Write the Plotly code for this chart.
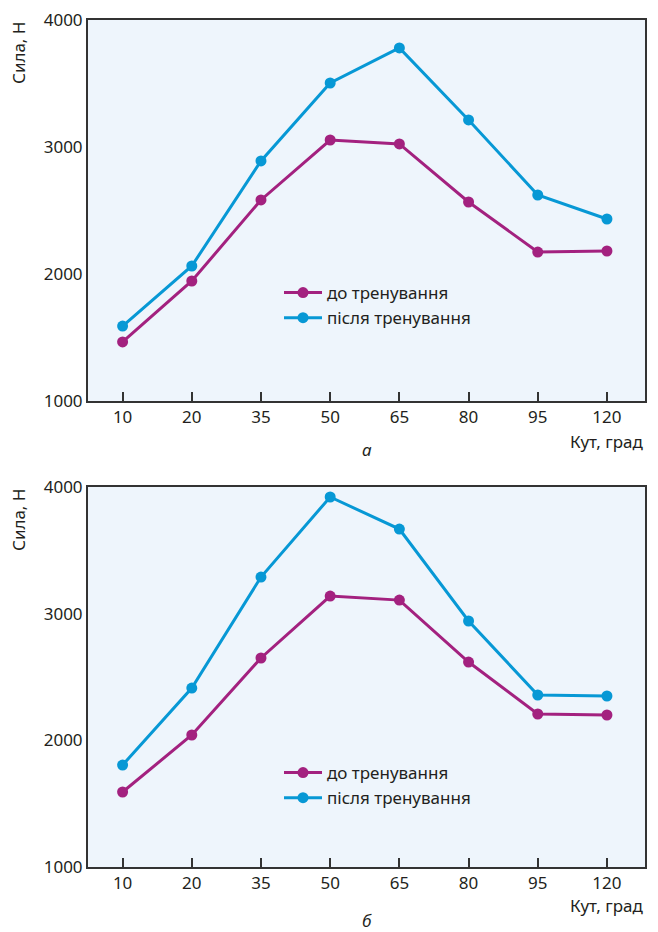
import plotly.graph_objects as go

angles = ["10", "20", "35", "50", "65", "80", "95", "120"]
before_a = [1465, 1945, 2583, 3055, 3024, 2567, 2173, 2181]
after_a = [1590, 2063, 2890, 3504, 3780, 3213, 2622, 2433]
before_b = [1592, 2042, 2650, 3139, 3107, 2618, 2208, 2200]
after_b = [1805, 2413, 3289, 3921, 3668, 2942, 2358, 2350]
y_ticks = [1000, 2000, 3000, 4000]
name_before = "до тренування"
name_after = "після тренування"

C_BEFORE = "#a3217f"
C_AFTER = "#0798d5"
FONT = "Noto Sans"
W, H = 658, 932
OFF = 8  # page body offset compensation


def px(v):
    return (v - OFF) / W


def py(v):
    return 1 - (v - OFF) / H


fig = go.Figure()
for xa, ya, lg, b, a in [("x", "y", "legend", before_a, after_a),
                         ("x2", "y2", "legend2", before_b, after_b)]:
    fig.add_trace(go.Scatter(x=angles, y=b, mode="lines+markers", name=name_before,
                             line=dict(color=C_BEFORE, width=3), marker=dict(size=11, color=C_BEFORE),
                             xaxis=xa, yaxis=ya, legend=lg))
    fig.add_trace(go.Scatter(x=angles, y=a, mode="lines+markers", name=name_after,
                             line=dict(color=C_AFTER, width=3), marker=dict(size=11, color=C_AFTER),
                             xaxis=xa, yaxis=ya, legend=lg))

xd = [px(88), px(645)]
common_x = dict(type="category", range=[-0.5, 7.55], showline=True, mirror=True, linecolor="#333",
                linewidth=2, ticks="inside", ticklen=9, tickwidth=1.5, tickcolor="#333",
                showgrid=False, zeroline=False, tickfont=dict(size=17, color="#231f20", family=FONT),
                domain=xd, automargin=False, ticklabeloverflow="allow")
common_y = dict(range=[1000, 4000], tickvals=y_ticks, showline=True, mirror=True, linecolor="#333",
                linewidth=2, ticks="", showgrid=False, zeroline=False, automargin=False,
                ticklabeloverflow="allow",
                tickfont=dict(size=17, color="#231f20", family=FONT))

fig.update_layout(
    width=W, height=H,
    margin=dict(l=0, r=0, t=0, b=0, pad=0, autoexpand=False),
    paper_bgcolor="white", plot_bgcolor="#eef5fc",
    font=dict(family=FONT, color="#231f20"),
    xaxis=dict(common_x, anchor="y"),
    yaxis=dict(common_y, anchor="x", domain=[py(401), py(20)]),
    xaxis2=dict(common_x, anchor="y2"),
    yaxis2=dict(common_y, anchor="x2", domain=[py(867), py(487)]),
    legend=dict(x=px(279), y=py(275), xanchor="left", yanchor="top", bgcolor="rgba(0,0,0,0)",
                font=dict(size=17, family=FONT), tracegroupgap=0, itemwidth=38),
    legend2=dict(x=px(279), y=py(755), xanchor="left", yanchor="top", bgcolor="rgba(0,0,0,0)",
                 font=dict(size=17, family=FONT), tracegroupgap=0, itemwidth=38),
    showlegend=True,
)

annos = [
    dict(text="Сила, Н", x=px(18), y=py(20), textangle=-90, xanchor="center", yanchor="top"),
    dict(text="Сила, Н", x=px(18), y=py(487), textangle=-90, xanchor="center", yanchor="top"),
    dict(text="Кут, град", x=px(646), y=py(441), xanchor="right", yanchor="middle"),
    dict(text="Кут, град", x=px(646), y=py(905), xanchor="right", yanchor="middle"),
    dict(text="<i>а</i>", x=px(367), y=py(450), xanchor="center", yanchor="middle"),
    dict(text="<i>б</i>", x=px(367), y=py(920), xanchor="center", yanchor="middle"),
]
for a in annos:
    fig.add_annotation(xref="paper", yref="paper", showarrow=False,
                       font=dict(size=17, family=FONT, color="#231f20"), **a)

fig.write_html("out.html")
